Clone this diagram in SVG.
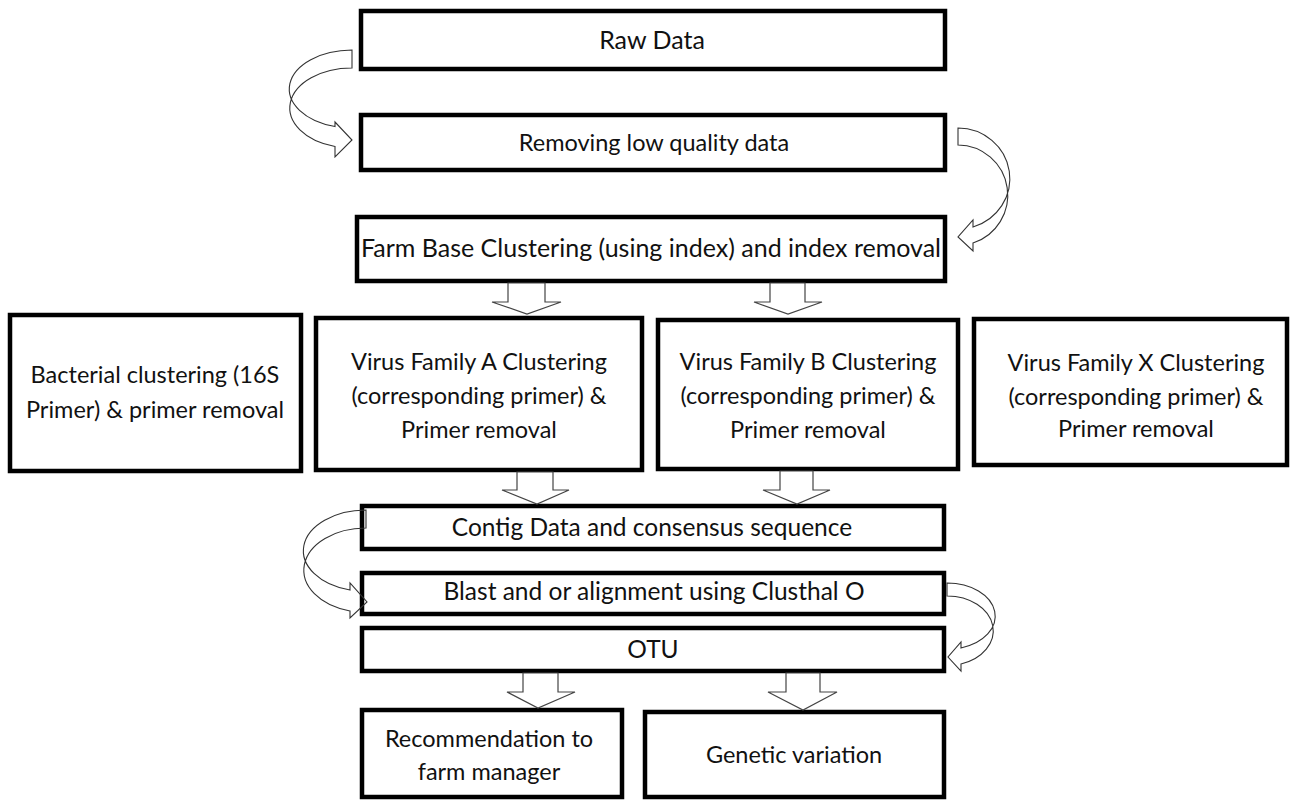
<svg xmlns="http://www.w3.org/2000/svg" width="1293" height="801" viewBox="0 0 1293 801">
<style>
  .box { fill: #ffffff; stroke: #000000; stroke-width: 4.5; }
  .lbl { font-family: Lato, "Open Sans", "Liberation Sans", sans-serif; font-size: 23.5px; fill: #111111; text-anchor: middle; }
  .big { font-size: 25px; }
  .mid { font-size: 24.5px; }
  .blk { fill: #ffffff; stroke: #444444; stroke-width: 1.2; stroke-linejoin: miter; }
  .crv { fill: none; stroke: #333333; stroke-width: 1.1; }
</style>
<rect x="0" y="0" width="1293" height="801" fill="#ffffff"/>

<g id="node-raw">
  <rect class="box" x="361" y="11" width="584" height="58"/>
  <text class="lbl big" x="652" y="49">Raw Data</text>
</g>
<g id="node-remove">
  <rect class="box" x="361" y="115" width="584" height="55"/>
  <text class="lbl" x="654" y="151">Removing low quality data</text>
</g>
<g id="node-farm">
  <rect class="box" x="357" y="217" width="588" height="64"/>
  <text class="lbl big" x="651" y="257">Farm Base Clustering (using index) and index removal</text>
</g>
<g id="node-bacterial">
  <rect class="box" x="10" y="315" width="291" height="156"/>
  <text class="lbl" x="155" y="383" font-size="24">Bacterial clustering (16S</text>
  <text class="lbl" x="155" y="418" font-size="24">Primer) &amp; primer removal</text>
</g>
<g id="node-virusA">
  <rect class="box" x="316" y="318" width="326" height="152"/>
  <text class="lbl" x="479" y="370">Virus Family A Clustering</text>
  <text class="lbl" x="479" y="404">(corresponding primer) &amp;</text>
  <text class="lbl" x="479" y="438">Primer removal</text>
</g>
<g id="node-virusB">
  <rect class="box" x="658" y="320" width="300" height="149"/>
  <text class="lbl" x="808" y="370">Virus Family B Clustering</text>
  <text class="lbl" x="808" y="404">(corresponding primer) &amp;</text>
  <text class="lbl" x="808" y="438">Primer removal</text>
</g>
<g id="node-virusX">
  <rect class="box" x="974" y="319" width="313" height="146"/>
  <text class="lbl" x="1136" y="371">Virus Family X Clustering</text>
  <text class="lbl" x="1136" y="405">(corresponding primer) &amp;</text>
  <text class="lbl" x="1136" y="437">Primer removal</text>
</g>
<g id="node-contig">
  <rect class="box" x="362" y="506" width="582" height="43"/>
  <text class="lbl mid" x="652" y="536">Contig Data and consensus sequence</text>
</g>
<g id="node-blast">
  <rect class="box" x="362" y="573" width="582" height="41"/>
  <text class="lbl mid" x="654" y="600">Blast and or alignment using Clusthal O</text>
</g>
<g id="node-otu">
  <rect class="box" x="362" y="628" width="582" height="43"/>
  <text class="lbl mid" x="653" y="658">OTU</text>
</g>
<g id="node-recommend">
  <rect class="box" x="362" y="710" width="260" height="87"/>
  <text class="lbl" x="489" y="747" font-size="23">Recommendation to</text>
  <text class="lbl" x="489" y="780" font-size="23">farm manager</text>
</g>
<g id="node-genetic">
  <rect class="box" x="645" y="712" width="299" height="85"/>
  <text class="lbl" x="794" y="763" font-size="23">Genetic variation</text>
</g>

<g id="connectors">
  <!-- block arrows -->
  <polygon class="blk" points="508,283 545,283 545,302 561,302 527,314 492,302 508,302"/>
  <polygon class="blk" points="770,283 805,283 805,302 822,302 788,314 754,302 770,302"/>
  <polygon class="blk" points="517,472 553,472 553,490 569,490 537,504 502,490 517,490"/>
  <polygon class="blk" points="780,471 813,471 813,490 830,490 797,504 763,490 780,490"/>
  <polygon class="blk" points="523,673 558,673 558,692 575,692 538,708 507,692 523,692"/>
  <polygon class="blk" points="786,673 820,673 820,692 837,692 803,710 768,692 786,692"/>
  <!-- curved arrows -->
  <path class="crv" d="M352,50 A63,39 0 0 0 335,126.5 L335,122 L352,140 L335,157 L335,146.5 A62,40 0 0 1 352,68 Z"/>
  <path class="crv" d="M958,128 A52,50.6 0 0 1 973,227 L973,220 L958,237 L973,251 L973,243 A50,50.2 0 0 0 958,145 Z"/>
  <path class="crv" d="M366,510 A63,40.7 0 0 0 350,590 L350,583 L367,602 L350,618 L350,611 A62,42.2 0 0 1 366,528 Z"/>
  <path class="crv" d="M947,583 A48,33.2 0 0 1 961,648 L961,642 L948,657 L961,671 L961,664 A46,34.8 0 0 0 947,596 Z"/>
</g>
</svg>
